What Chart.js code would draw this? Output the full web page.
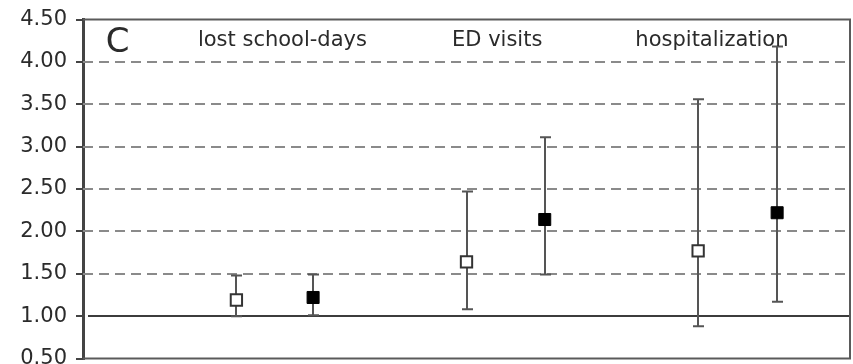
<!DOCTYPE html>
<html>
<head>
<meta charset="utf-8">
<script src="https://cdn.jsdelivr.net/npm/chart.js@4"></script>
<style>
  html, body { margin: 0; padding: 0; background: #fff; }
  #wrap { width: 853px; height: 364px; overflow: hidden; }
</style>
</head>
<body>
<div id="wrap"><canvas id="orChart" width="853" height="378"></canvas></div>
<script>
// outcome groups and their x slots (open = first marker, filled = second)
const categories = ['lost school-days', 'ED visits', 'hospitalization'];
const openX = [2, 5, 8.02];
const filledX = [3, 6.02, 9.05];
const labelX = [2.6, 5.4, 8.2];

// point estimates with lower / upper limits
const openValues = [1.19, 1.64, 1.77];
const openLower = [1.00, 1.08, 0.88];
const openUpper = [1.48, 2.47, 3.56];

const filledValues = [1.22, 2.14, 2.22];
const filledLower = [1.01, 1.49, 1.17];
const filledUpper = [1.49, 3.11, 4.18];

const yTicks = [0.5, 1, 1.5, 2, 2.5, 3, 3.5, 4, 4.5];
const dashedLines = [1.5, 2, 2.5, 3, 3.5, 4];
const referenceLine = 1.0;

const FONT = '"DejaVu Sans", sans-serif';
const TEXT = '#2b2b2b';

const toPoints = (xs, ys, lo, hi) => xs.map((x, i) => ({ x: x, y: ys[i], lo: lo[i], hi: hi[i] }));

// background lines, frame and error bars
const panelPlugin = {
    id: 'panel',
    beforeDatasetsDraw(chart) {
        const { ctx, chartArea, scales } = chart;
        const y = scales.y;
        const x = scales.x;
        ctx.save();

        // dashed grid
        ctx.strokeStyle = '#8a8a8a';
        ctx.lineWidth = 2;
        ctx.setLineDash([10, 6]);
        dashedLines.forEach(v => {
            const py = Math.round(y.getPixelForValue(v));
            ctx.beginPath();
            ctx.moveTo(chartArea.left, py);
            ctx.lineTo(chartArea.right, py);
            ctx.stroke();
        });
        ctx.setLineDash([]);

        // solid line at 1.00
        ctx.strokeStyle = '#3c3c3c';
        ctx.lineWidth = 2;
        const ry = Math.round(y.getPixelForValue(referenceLine));
        ctx.beginPath();
        ctx.moveTo(chartArea.left + 5, ry);
        ctx.lineTo(chartArea.right, ry);
        ctx.stroke();

        // frame (top, right, bottom)
        ctx.strokeStyle = '#5a5a5a';
        ctx.lineWidth = 2;
        ctx.beginPath();
        ctx.moveTo(chartArea.left, chartArea.top);
        ctx.lineTo(chartArea.right, chartArea.top);
        ctx.lineTo(chartArea.right, chartArea.bottom);
        ctx.lineTo(chartArea.left, chartArea.bottom);
        ctx.stroke();

        // error bars
        ctx.strokeStyle = '#555555';
        ctx.lineWidth = 2;
        chart.data.datasets.forEach(ds => {
            ds.data.forEach(p => {
                const px = Math.round(x.getPixelForValue(p.x));
                const top = y.getPixelForValue(p.hi);
                const bot = y.getPixelForValue(p.lo);
                ctx.beginPath();
                ctx.moveTo(px, top);
                ctx.lineTo(px, bot);
                ctx.moveTo(px - 5, top);
                ctx.lineTo(px + 6, top);
                ctx.moveTo(px - 5, bot);
                ctx.lineTo(px + 6, bot);
                ctx.stroke();
            });
        });
        ctx.restore();
    },
    afterDraw(chart) {
        const { ctx, scales } = chart;
        ctx.save();
        ctx.fillStyle = TEXT;
        ctx.textBaseline = 'middle';
        ctx.textAlign = 'center';
        ctx.font = '21px ' + FONT;
        categories.forEach((c, i) => {
            ctx.fillText(c, scales.x.getPixelForValue(labelX[i]), scales.y.getPixelForValue(4.25));
        });
        ctx.font = '34px ' + FONT;
        ctx.fillText('C', scales.x.getPixelForValue(0.45), scales.y.getPixelForValue(4.22));
        ctx.restore();
    }
};

new Chart(document.getElementById('orChart'), {
    type: 'scatter',
    data: {
        datasets: [
            {
                label: 'open',
                data: toPoints(openX, openValues, openLower, openUpper),
                pointStyle: 'rect',
                pointRadius: 8,
                backgroundColor: '#ffffff',
                borderColor: '#333333',
                borderWidth: 2
            },
            {
                label: 'filled',
                data: toPoints(filledX, filledValues, filledLower, filledUpper),
                pointStyle: 'rect',
                pointRadius: 8.5,
                backgroundColor: '#000000',
                borderColor: '#000000',
                borderWidth: 1
            }
        ]
    },
    options: {
        responsive: false,
        animation: false,
        devicePixelRatio: 1,
        layout: { autoPadding: false, padding: { top: 19, right: 3, bottom: 19, left: 0 } },
        plugins: {
            legend: { display: false },
            tooltip: { enabled: false }
        },
        scales: {
            x: {
                type: 'linear',
                min: 0,
                max: 10,
                display: false
            },
            y: {
                min: 0.5,
                max: 4.5,
                afterFit: (scale) => { scale.width = 83; },
                afterBuildTicks: (scale) => { scale.ticks = yTicks.map(v => ({ value: v })); },
                ticks: {
                    padding: 9,
                    color: TEXT,
                    font: { family: FONT, size: 21, lineHeight: 1 },
                    callback: (v) => Number(v).toFixed(2)
                },
                grid: {
                    drawOnChartArea: false,
                    tickLength: 7,
                    color: '#444444',
                    lineWidth: 2
                },
                border: { display: true, color: '#444444', width: 3 }
            }
        }
    },
    plugins: [panelPlugin]
});
</script>
</body>
</html>
